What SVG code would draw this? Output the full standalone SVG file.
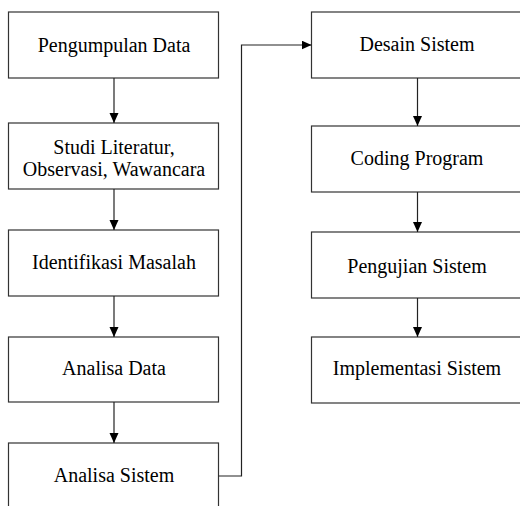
<svg xmlns="http://www.w3.org/2000/svg" width="520" height="506" viewBox="0 0 520 506">
<style>
.box{fill:#fff;stroke:#333;stroke-width:1.2}
.lbl{font-family:"Liberation Serif","Times New Roman",serif;font-size:20px;fill:#000;text-anchor:middle}
.con{fill:none;stroke:#222;stroke-width:1.2}
</style>
<defs>
<marker id="ah" markerUnits="userSpaceOnUse" markerWidth="10" markerHeight="10" refX="10" refY="4.5" orient="auto">
<path d="M0,0 L10,4.5 L0,9 z" fill="#000"/>
</marker>
</defs>
<rect width="520" height="506" fill="#fff"/>
<g id="n1"><rect class="box" x="8.5" y="12" width="210" height="66"/><text class="lbl" x="114" y="52">Pengumpulan Data</text></g>
<g id="n2"><rect class="box" x="8.5" y="123" width="210" height="66"/><text class="lbl" x="114" y="154">Studi Literatur,</text><text class="lbl" x="114" y="176">Observasi, Wawancara</text></g>
<g id="n3"><rect class="box" x="8.5" y="230" width="210" height="66"/><text class="lbl" x="114" y="269">Identifikasi Masalah</text></g>
<g id="n4"><rect class="box" x="8.5" y="337" width="210" height="65"/><text class="lbl" x="114" y="375">Analisa Data</text></g>
<g id="n5"><rect class="box" x="8.5" y="443" width="210" height="80"/><text class="lbl" x="114" y="482">Analisa Sistem</text></g>
<g id="n6"><rect class="box" x="311.5" y="12" width="212" height="66"/><text class="lbl" x="417" y="51">Desain Sistem</text></g>
<g id="n7"><rect class="box" x="311.5" y="126" width="212" height="66"/><text class="lbl" x="417" y="165">Coding Program</text></g>
<g id="n8"><rect class="box" x="311.5" y="232" width="212" height="66"/><text class="lbl" x="417" y="273">Pengujian Sistem</text></g>
<g id="n9"><rect class="box" x="311.5" y="337" width="212" height="66"/><text class="lbl" x="417" y="375">Implementasi Sistem</text></g>
<g id="connectors">
<line class="con" x1="114" y1="78" x2="114" y2="123" marker-end="url(#ah)"/>
<line class="con" x1="114" y1="189" x2="114" y2="230" marker-end="url(#ah)"/>
<line class="con" x1="114" y1="296" x2="114" y2="337" marker-end="url(#ah)"/>
<line class="con" x1="114" y1="402" x2="114" y2="443" marker-end="url(#ah)"/>
<polyline class="con" points="218.5,476 241.5,476 241.5,45 311.5,45" marker-end="url(#ah)"/>
<line class="con" x1="417.5" y1="78" x2="417.5" y2="126" marker-end="url(#ah)"/>
<line class="con" x1="417.5" y1="192" x2="417.5" y2="232" marker-end="url(#ah)"/>
<line class="con" x1="417.5" y1="298" x2="417.5" y2="337" marker-end="url(#ah)"/>
</g>
</svg>
